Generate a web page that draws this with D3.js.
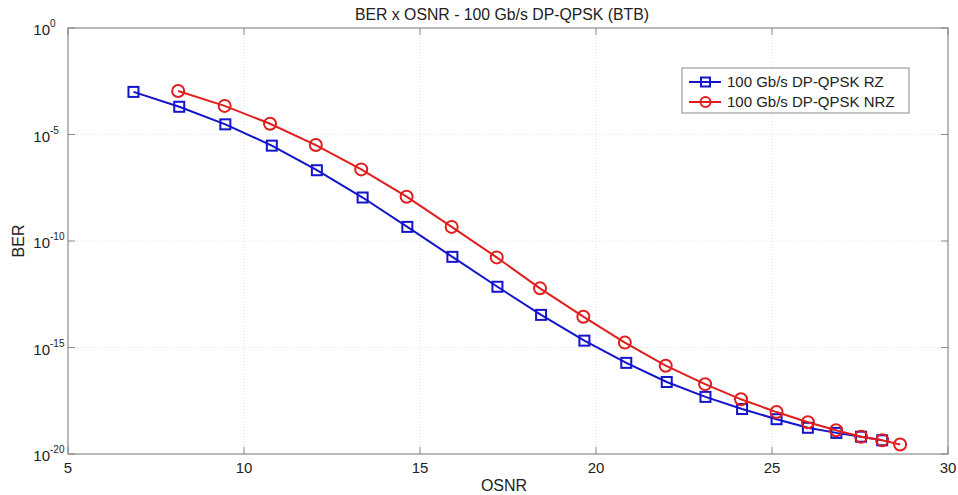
<!DOCTYPE html>
<html>
<head>
<meta charset="utf-8">
<script src="https://cdn.jsdelivr.net/npm/d3@7"></script>
<style>
  body { margin: 0; background: #fff; }
  text { font-family: "Liberation Sans", Arial, sans-serif; fill: #222; }
</style>
</head>
<body>
<div id="main"></div>
<script>
// OSNR (dB) and BER
var osnrRZ  = [6.86, 8.16, 9.47, 10.79, 12.07, 13.37, 14.64, 15.92, 17.20, 18.44,
               19.67, 20.86, 22.01, 23.11, 24.15, 25.13, 26.02, 26.83, 27.53, 28.13];
var berRZ   = [1e-3, 2.0e-4, 3.0e-5, 3.0e-6, 2.1e-7, 1.1e-8, 4.6e-10, 1.8e-11, 7.1e-13, 3.4e-14,
               2.1e-15, 1.9e-16, 2.4e-17, 4.8e-18, 1.3e-18, 4.3e-19, 1.7e-19, 9.8e-20, 6.5e-20, 4.4e-20];
var osnrNRZ = [8.13, 9.45, 10.74, 12.04, 13.33, 14.62, 15.90, 17.18, 18.41, 19.64,
               20.82, 21.98, 23.10, 24.12, 25.13, 26.02, 26.82, 27.53, 28.13, 28.64];
var berNRZ  = [1.1e-3, 2.2e-4, 3.2e-5, 3.2e-6, 2.3e-7, 1.2e-8, 4.6e-10, 1.7e-11, 6.0e-13, 2.8e-14,
               1.7e-15, 1.4e-16, 1.9e-17, 3.7e-18, 9.3e-19, 3.1e-19, 1.3e-19, 6.5e-20, 4.4e-20, 2.8e-20];
var xTicks = [5, 10, 15, 20, 25, 30];
var yExps  = [0, -5, -10, -15, -20];
var seriesNames = ["100 Gb/s DP-QPSK RZ", "100 Gb/s DP-QPSK NRZ"];

var W = 958, H = 495;
var margin = {top: 28, right: 10, bottom: 41, left: 68},
    width = W - margin.left - margin.right,
    height = H - margin.top - margin.bottom;

var blue = "#1414cc", red = "#e01e1e", axisCol = "#8a8a8a", gridCol = "#e2e2e2";

var svg = d3.select("#main").append("svg")
    .attr("width", W).attr("height", H);
var g = svg.append("g")
    .attr("transform", "translate(" + margin.left + "," + margin.top + ")");

var x = d3.scaleLinear().domain([5, 30]).range([0, width]);
var y = d3.scaleLog().domain([1e-20, 1]).range([height, 0]);

// grid lines (dotted, Matlab style)
g.append("g").selectAll("line").data(xTicks.slice(1, -1)).enter().append("line")
    .attr("x1", function(d) { return x(d); }).attr("x2", function(d) { return x(d); })
    .attr("y1", 0).attr("y2", height)
    .attr("stroke", gridCol).attr("stroke-dasharray", "1,2");
g.append("g").selectAll("line").data(yExps.slice(1, -1)).enter().append("line")
    .attr("y1", function(d) { return y(Math.pow(10, d)); }).attr("y2", function(d) { return y(Math.pow(10, d)); })
    .attr("x1", 0).attr("x2", width)
    .attr("stroke", gridCol).attr("stroke-dasharray", "1,2");

// box
g.append("rect").attr("width", width).attr("height", height)
    .attr("fill", "none").attr("stroke", axisCol).attr("stroke-width", 1.2);

// ticks inside, on all four sides
var tl = 7;
xTicks.forEach(function(t) {
    g.append("line").attr("x1", x(t)).attr("x2", x(t)).attr("y1", height).attr("y2", height - tl).attr("stroke", axisCol);
    g.append("line").attr("x1", x(t)).attr("x2", x(t)).attr("y1", 0).attr("y2", tl).attr("stroke", axisCol);
    g.append("text").attr("x", x(t)).attr("y", height + 19)
        .attr("text-anchor", "middle").style("font-size", "15px").text(t);
});
yExps.forEach(function(e) {
    var yy = y(Math.pow(10, e));
    g.append("line").attr("y1", yy).attr("y2", yy).attr("x1", 0).attr("x2", tl).attr("stroke", axisCol);
    g.append("line").attr("y1", yy).attr("y2", yy).attr("x1", width).attr("x2", width - tl).attr("stroke", axisCol);
    g.append("text").attr("x", -18).attr("y", yy + 7)
        .attr("text-anchor", "end").style("font-size", "15px").text("10");
    g.append("text").attr("x", -18).attr("y", yy - 1)
        .attr("text-anchor", "start").style("font-size", "10px").text(e);
});

// lines and markers
var line = d3.line()
    .x(function(d) { return x(d[0]); })
    .y(function(d) { return y(d[1]); });

var rz  = d3.zip(osnrRZ, berRZ);
var nrz = d3.zip(osnrNRZ, berNRZ);

g.append("path").datum(rz).attr("d", line)
    .attr("fill", "none").attr("stroke", blue).attr("stroke-width", 2);
g.append("g").selectAll("rect").data(rz).enter().append("rect")
    .attr("x", function(d) { return x(d[0]) - 5; })
    .attr("y", function(d) { return y(d[1]) - 5; })
    .attr("width", 10).attr("height", 10)
    .attr("fill", "none").attr("stroke", blue).attr("stroke-width", 2);

g.append("path").datum(nrz).attr("d", line)
    .attr("fill", "none").attr("stroke", red).attr("stroke-width", 2);
g.append("g").selectAll("circle").data(nrz).enter().append("circle")
    .attr("cx", function(d) { return x(d[0]); })
    .attr("cy", function(d) { return y(d[1]); })
    .attr("r", 6)
    .attr("fill", "none").attr("stroke", red).attr("stroke-width", 2);

// legend
var leg = svg.append("g").attr("transform", "translate(682,68)");
leg.append("rect").attr("width", 227).attr("height", 45)
    .attr("fill", "#fff").attr("stroke", axisCol).attr("stroke-width", 1);
[blue, red].forEach(function(c, i) {
    var ly = 14 + i * 20;
    leg.append("line").attr("x1", 7).attr("x2", 39).attr("y1", ly).attr("y2", ly)
        .attr("stroke", c).attr("stroke-width", 2);
    if (i === 0) {
        leg.append("rect").attr("x", 19).attr("y", ly - 4.5).attr("width", 9).attr("height", 9)
            .attr("fill", "none").attr("stroke", c).attr("stroke-width", 2);
    } else {
        leg.append("circle").attr("cx", 23.5).attr("cy", ly).attr("r", 5)
            .attr("fill", "none").attr("stroke", c).attr("stroke-width", 2);
    }
    leg.append("text").attr("x", 45).attr("y", ly + 5).style("font-size", "15px").text(seriesNames[i]);
});

// titles
svg.append("text").attr("x", 502).attr("y", 20)
    .attr("text-anchor", "middle").style("font-size", "15.8px")
    .text("BER x OSNR - 100 Gb/s DP-QPSK (BTB)");
svg.append("text").attr("x", 504).attr("y", 491)
    .attr("text-anchor", "middle").style("font-size", "16px").text("OSNR");
svg.append("text").attr("transform", "translate(24," + (margin.top + height / 2) + ") rotate(-90)")
    .attr("text-anchor", "middle").style("font-size", "16px").text("BER");
</script>
</body>
</html>
